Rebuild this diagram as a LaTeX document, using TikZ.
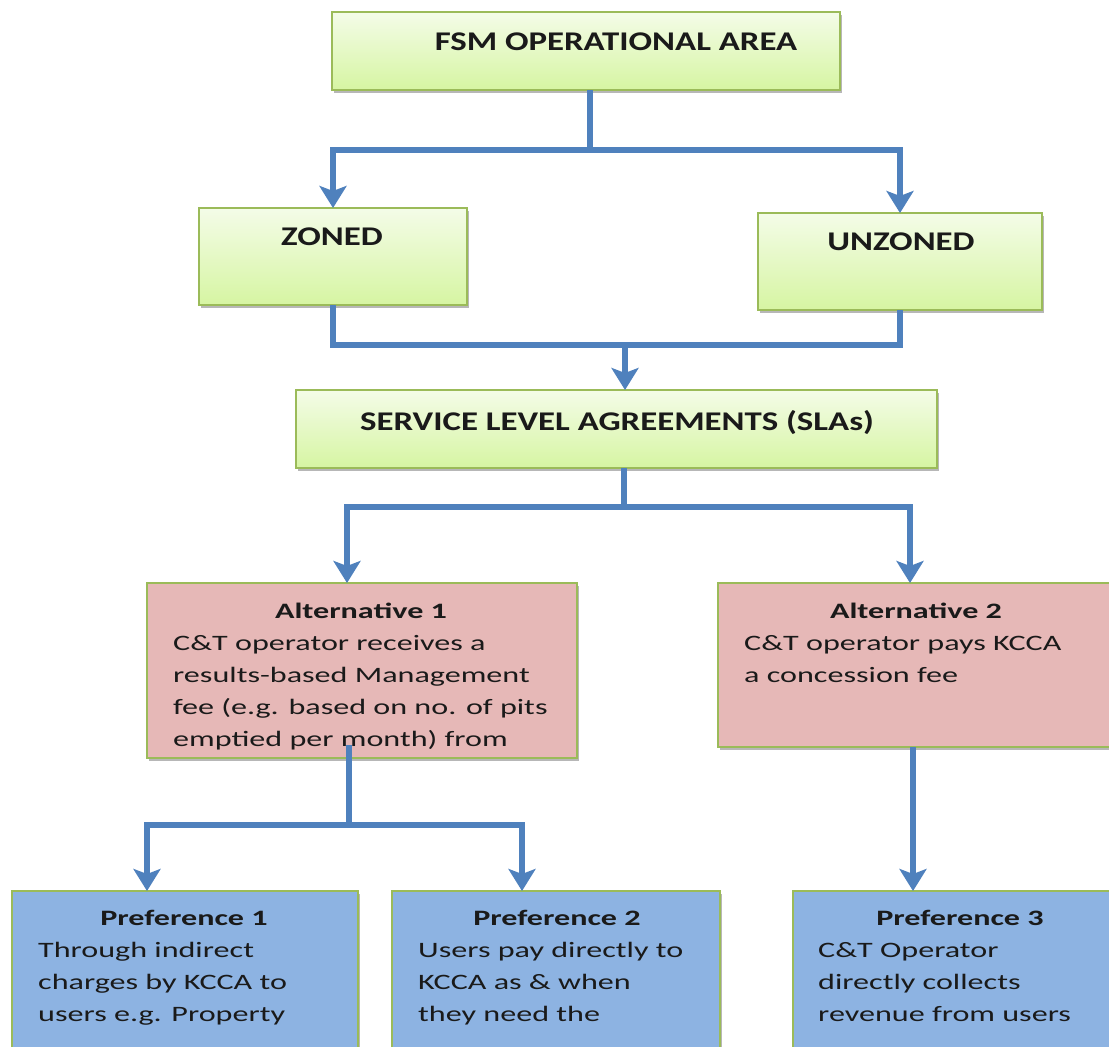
\documentclass[tikz,border=0pt]{standalone}
\usepackage{fontspec}
\setmainfont{Carlito}
\newfontfamily\titlefont[FakeStretch=1.29]{Carlito}
\newfontfamily\bodyfont[FakeStretch=1.46]{Carlito}
\usetikzlibrary{arrows.meta,shadows,calc}
\definecolor{conncol}{HTML}{4F81BD}
\definecolor{boxborder}{HTML}{9BBB59}
\definecolor{gtop}{HTML}{F4FCE8}
\definecolor{gbot}{HTML}{D6F5A2}
\definecolor{pinkfill}{HTML}{E6B8B7}
\definecolor{bluefill}{HTML}{8DB3E2}
\definecolor{txtcol}{HTML}{1A1A1A}
\begin{document}
\begin{tikzpicture}[x=1pt,y=-1pt,
  basebox/.style={draw=boxborder, line width=1.6pt, inner sep=0pt, outer sep=0pt,
    drop shadow={shadow xshift=1.5pt, shadow yshift=-3pt, fill=black!40, opacity=0.7}},
  greenbox/.style={basebox, top color=gtop, bottom color=gbot},
  pinkbox/.style={basebox, fill=pinkfill},
  bluebox/.style={basebox, fill=bluefill},
  ttl/.style={font=\titlefont\bfseries\fontsize{27}{31}\selectfont, inner sep=0pt, text=txtcol, anchor=base},
  subttl/.style={font=\bodyfont\bfseries\fontsize{22}{32}\selectfont, inner sep=0pt, text=txtcol, anchor=base},
  bodytxt/.style={font=\bodyfont\fontsize{22}{32}\selectfont, inner sep=0pt, text=txtcol, anchor=base west},
  link/.style={draw=conncol, line width=6pt},
  arrowlink/.style={link, -{Stealth[width=27pt, length=22pt, inset=5pt]}}
]
\useasboundingbox (0,0) rectangle (1109,1047);
\fill[white] (0,0) rectangle (1109,1047);
\clip (0,0) rectangle (1109,1047);

% boxes
\node[greenbox, minimum width=508pt, minimum height=78pt] (fsm) at (586,51) {};
\node[greenbox, minimum width=268pt, minimum height=97pt] (zoned) at (333,256.5) {};
\node[greenbox, minimum width=284pt, minimum height=97pt] (unzoned) at (900,261.5) {};
\node[greenbox, minimum width=641pt, minimum height=78pt] (sla) at (616.5,429) {};
\node[pinkbox, minimum width=430pt, minimum height=175pt] (alt1) at (362,670.5) {};
\node[pinkbox, minimum width=392pt, minimum height=164pt] (alt2) at (914,665) {};
\node[bluebox, minimum width=346pt, minimum height=178pt] (pref1) at (185,980) {};
\node[bluebox, minimum width=328pt, minimum height=178pt] (pref2) at (556,980) {};
\node[bluebox, minimum width=318pt, minimum height=178pt] (pref3) at (952,980) {};

% texts
\node[ttl] (fsmt) at (616,50) {FSM OPERATIONAL AREA};
\node[ttl] (zonedt) at (332,245) {ZONED};
\node[ttl] (unzonedt) at (901,250) {UNZONED};
\node[ttl] (slat) at (617,430) {SERVICE LEVEL AGREEMENTS (SLAs)};

\node[subttl] (alt1t) at (361,618) {Alternative 1};
\node[bodytxt] (alt1b) at (173,650) {\parbox[t]{420pt}{C\&T operator receives a\\results-based Management\\fee (e.g. based on no. of pits\\emptied per month) from}};
\node[subttl] (alt2t) at (916,618) {Alternative 2};
\node[bodytxt] (alt2b) at (744,650) {\parbox[t]{380pt}{C\&T operator pays KCCA\\a concession fee}};

\node[subttl] (pref1t) at (184,925) {Preference 1};
\node[bodytxt] (pref1b) at (38,957) {\parbox[t]{330pt}{Through indirect\\charges by KCCA to\\users e.g. Property}};
\node[subttl] (pref2t) at (557,925) {Preference 2};
\node[bodytxt] (pref2b) at (418,957) {\parbox[t]{320pt}{Users pay directly to\\KCCA as \& when\\they need the}};
\node[subttl] (pref3t) at (960,925) {Preference 3};
\node[bodytxt] (pref3b) at (818,957) {\parbox[t]{300pt}{C\&T Operator\\directly collects\\revenue from users}};

% junction coordinates
\coordinate (j1) at (590,150);
\coordinate (j2) at (625,345);
\coordinate (j3) at (624,507);
\coordinate (j4) at (349,825);
\coordinate (a1in) at ($(alt1.north west)+(200,0)$);
\coordinate (a2in) at ($(alt2.north west)+(192,0)$);
\coordinate (a1out) at ($(alt1.south west)+(202,-13)$);
\coordinate (a2out) at ($(alt2.south west)+(195,0)$);
\coordinate (p1in) at ($(pref1.north west)+(135,0)$);
\coordinate (p2in) at ($(pref2.north west)+(130,0)$);
\coordinate (p3in) at ($(pref3.north west)+(120,0)$);

% connectors
\draw[link] (fsm.south -| j1) -- (j1);
\draw[arrowlink] (j1) -| (zoned.north);
\draw[arrowlink] (j1) -| (unzoned.north);
\draw[link] (zoned.south) |- (j2) -| (unzoned.south);
\draw[arrowlink] (j2) -- (j2 |- sla.north);
\draw[link] (sla.south -| j3) -- (j3);
\draw[arrowlink] (j3) -| (a1in);
\draw[arrowlink] (j3) -| (a2in);
\draw[link] (a1out) -- (j4);
\draw[arrowlink] (j4) -| (p1in);
\draw[arrowlink] (j4) -| (p2in);
\draw[arrowlink] (a2out) -- (p3in);
\end{tikzpicture}
\end{document}
